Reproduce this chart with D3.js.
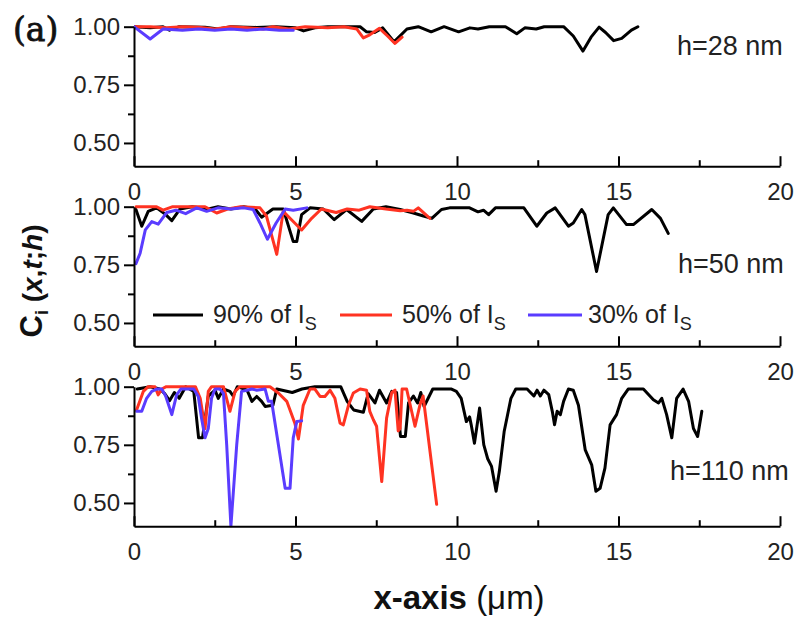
<!DOCTYPE html>
<html>
<head>
<meta charset="utf-8">
<script src="https://cdn.jsdelivr.net/npm/d3@7"></script>
<style>
  html, body { margin: 0; padding: 0; background: #fff; }
  svg { display: block; font-family: "Liberation Sans", Arial, sans-serif; }
</style>
</head>
<body>
<svg id="chart" width="800" height="621"></svg>
<script>
// Series: [x (um), C_i] for each threshold, one set per film thickness
const black28 = [[0,1.0],[0.5,0.995],[0.9,1.0],[1.1,0.985],[1.4,1.0],[2.2,0.998],[2.6,0.99],[3.0,1.0],[3.8,0.997],[4.4,1.0],[5.0,0.995],[5.25,0.982],[5.6,0.995],[6.0,1.0],[7.0,1.0],[7.2,0.978],[7.45,0.975],[7.7,0.995],[8.05,0.935],[8.45,0.99],[8.8,1.0],[9.2,0.978],[9.6,1.0],[10.05,0.978],[10.4,0.995],[10.65,0.99],[11.0,1.0],[11.5,1.0],[11.85,0.97],[12.1,0.995],[12.45,0.99],[12.7,1.0],[13.3,1.0],[13.6,0.96],[13.9,0.895],[14.15,0.955],[14.4,0.998],[14.6,0.975],[14.85,0.94],[15.1,0.95],[15.4,0.985],[15.6,1.0]];
const red28 = [[0,1.0],[0.5,1.0],[1.0,0.995],[1.5,1.0],[2.0,0.998],[2.5,0.99],[3.0,1.0],[3.5,0.995],[4.0,0.99],[4.3,1.0],[4.8,0.99],[5.3,1.0],[6.0,0.995],[6.5,1.0],[6.9,0.99],[7.1,0.952],[7.3,0.965],[7.6,0.993],[7.85,0.96],[8.08,0.928],[8.3,0.955]];
const blue28 = [[0,1.0],[0.5,0.947],[0.9,0.99],[1.5,0.985],[2.0,0.99],[2.5,0.985],[3.0,0.99],[3.5,0.985],[4.0,0.99],[4.5,0.985],[4.93,0.985]];

const black50 = [[0.06,0.988],[0.24,0.916],[0.44,0.98],[0.7,0.995],[0.95,0.97],[1.17,0.94],[1.42,0.99],[1.8,1.0],[2.3,0.99],[2.6,1.0],[3.0,0.99],[3.4,1.0],[3.75,0.99],[3.95,0.955],[4.3,0.99],[4.62,0.99],[4.93,0.85],[5.04,0.85],[5.19,0.966],[5.45,0.995],[5.86,0.99],[6.2,0.944],[6.58,0.988],[7.05,0.937],[7.41,0.99],[7.8,1.0],[8.24,0.988],[8.65,0.973],[8.96,0.96],[9.22,0.95],[9.52,0.988],[9.77,0.995],[10.39,0.995],[10.65,0.978],[10.82,0.985],[10.98,0.966],[11.19,0.995],[12.07,0.995],[12.47,0.916],[12.78,0.973],[13.04,0.995],[13.45,0.916],[13.6,0.93],[13.86,0.988],[13.96,0.966],[14.32,0.721],[14.68,0.966],[14.84,0.995],[15.25,0.923],[15.46,0.923],[16.03,0.988],[16.3,0.95],[16.54,0.885]];
const red50 = [[0.06,1.0],[0.7,1.0],[0.9,0.985],[1.2,1.0],[2.2,1.0],[2.56,0.973],[2.9,0.99],[3.3,1.0],[3.9,0.995],[4.1,0.96],[4.42,0.795],[4.62,0.98],[4.83,0.95],[5.19,0.9],[5.5,0.95],[5.8,0.99],[6.26,0.975],[6.6,0.99],[6.97,0.985],[7.3,1.0],[7.8,0.99],[8.24,0.983],[8.45,0.985],[8.65,0.98],[8.8,0.995],[9.16,0.95]];
const blue50 = [[0.06,0.755],[0.19,0.8],[0.35,0.9],[0.55,0.936],[0.75,0.925],[1.01,0.975],[1.3,0.985],[1.6,0.97],[1.94,0.995],[2.25,0.98],[2.6,0.995],[3.0,0.99],[3.4,0.995],[3.69,0.988],[3.9,0.93],[4.13,0.86],[4.4,0.93],[4.68,0.99],[4.93,0.985],[5.35,0.995]];

const black110 = [[0.1,0.99],[0.5,1.0],[0.8,0.99],[0.95,0.97],[1.1,0.94],[1.25,0.975],[1.4,0.95],[1.6,1.0],[1.85,0.98],[2.0,0.78],[2.12,0.78],[2.3,0.96],[2.51,0.985],[2.61,0.95],[2.77,0.99],[2.97,0.98],[3.07,0.96],[3.2,1.0],[3.5,0.985],[3.65,0.937],[3.8,0.958],[3.95,0.937],[4.06,0.915],[4.3,0.92],[4.42,0.99],[4.9,0.975],[5.2,0.99],[5.6,1.0],[6.4,1.0],[6.6,0.937],[6.8,0.9],[7.1,0.89],[7.25,0.97],[7.46,0.93],[7.6,0.985],[7.82,0.93],[7.98,0.98],[8.13,0.975],[8.25,0.786],[8.4,0.786],[8.5,0.93],[8.65,0.96],[8.78,0.93],[8.88,0.975],[8.98,0.915],[9.25,0.99],[9.83,0.99],[9.98,0.98],[10.13,0.95],[10.29,0.85],[10.39,0.87],[10.44,0.836],[10.54,0.757],[10.7,0.908],[10.83,0.75],[10.95,0.69],[11.07,0.657],[11.21,0.55],[11.31,0.635],[11.46,0.807],[11.67,0.95],[11.82,0.99],[12.17,0.99],[12.38,0.96],[12.48,0.985],[12.58,0.96],[12.69,0.985],[12.84,0.966],[12.95,0.894],[13.02,0.836],[13.1,0.894],[13.2,0.88],[13.3,0.937],[13.45,0.99],[13.6,0.985],[13.76,0.92],[13.97,0.728],[14.17,0.664],[14.3,0.55],[14.43,0.563],[14.58,0.65],[14.74,0.836],[14.94,0.88],[15.1,0.95],[15.3,0.99],[15.77,0.99],[16.08,0.944],[16.24,0.93],[16.34,0.95],[16.49,0.88],[16.65,0.78],[16.8,0.95],[17.0,0.99],[17.17,0.937],[17.32,0.82],[17.45,0.786],[17.58,0.894]];
const red110 = [[0.08,0.9],[0.29,0.98],[0.44,1.0],[0.65,1.0],[0.75,0.965],[0.86,0.99],[1.0,1.0],[1.9,1.0],[2.05,0.95],[2.2,0.82],[2.3,0.98],[2.4,1.0],[2.77,1.0],[2.97,0.894],[3.13,0.98],[3.28,1.0],[4.21,1.0],[4.47,0.973],[4.73,0.937],[4.83,0.9],[4.98,0.843],[5.09,0.775],[5.24,0.92],[5.45,0.99],[5.6,0.99],[5.76,0.958],[5.91,0.958],[6.07,0.985],[6.22,0.95],[6.38,0.843],[6.48,0.836],[6.64,0.92],[6.79,0.973],[7.0,0.99],[7.2,0.985],[7.3,0.894],[7.41,0.858],[7.51,0.83],[7.67,0.592],[7.82,0.865],[7.98,0.975],[8.08,0.985],[8.18,0.81],[8.24,0.82],[8.3,0.99],[8.44,0.99],[8.7,0.83],[8.85,0.92],[8.95,0.96],[9.37,0.494]];
const blue110 = [[0.08,0.894],[0.24,0.894],[0.39,0.95],[0.55,0.98],[0.7,0.99],[0.86,0.99],[0.98,0.96],[1.17,0.88],[1.32,0.965],[1.45,0.99],[1.85,0.99],[1.99,0.958],[2.09,0.865],[2.2,0.78],[2.3,0.82],[2.4,0.95],[2.51,0.99],[2.66,0.99],[2.77,0.97],[2.87,0.75],[3.0,0.4],[3.18,0.75],[3.33,0.98],[3.5,0.985],[3.65,0.99],[3.8,0.985],[4.06,0.99],[4.16,0.937],[4.26,0.937],[4.68,0.563],[4.83,0.563],[4.93,0.78],[5.04,0.85],[5.19,0.853]];

const panelLabels = ["h=28 nm", "h=50 nm", "h=110 nm"];
const seriesNames = ["90% of I", "50% of I", "30% of I"];
const seriesColors = ["#000000", "#ff3322", "#5a3cff"];
const xTicks = [0, 5, 10, 15, 20];
const xMinor = [2.5, 7.5, 12.5, 17.5];
const yTicks = [0.50, 0.75, 1.00];
const yMinor = [0.625, 0.875];

const panels = [
  { label: panelLabels[0], series: [black28, red28, blue28] },
  { label: panelLabels[1], series: [black50, red50, blue50] },
  { label: panelLabels[2], series: [black110, red110, blue110] }
];

const svg = d3.select("#chart");
const left = 134, right = 780;
const panelTop0 = 26.7, panelStep = 180, panelH = 139.5;

const x = d3.scaleLinear().domain([0, 20]).range([left, right]);

panels.forEach((p, i) => {
  const top = panelTop0 + i * panelStep;
  const bottom = top + panelH;
  const y = d3.scaleLinear().domain([0.4, 1.0]).range([bottom, top]);
  const g = svg.append("g");

  const clipId = "clip" + i;
  svg.append("clipPath").attr("id", clipId)
    .append("rect").attr("x", left).attr("y", top - 4)
    .attr("width", right - left).attr("height", panelH + 5);

  // data lines
  const line = d3.line().x(d => x(d[0])).y(d => y(d[1]));
  const lg = g.append("g").attr("clip-path", `url(#${clipId})`);
  p.series.forEach((s, k) => {
    lg.append("path").datum(s)
      .attr("d", line)
      .attr("fill", "none")
      .attr("stroke", seriesColors[k])
      .attr("stroke-width", 3)
      .attr("stroke-linejoin", "round")
      .attr("stroke-linecap", "round");
  });

  // bottom axis (ticks pointing into the plot)
  const xAxis = d3.axisBottom(x).tickValues(xTicks).tickSizeInner(-10).tickSizeOuter(0)
    .tickPadding(17).tickFormat(d3.format("d"));
  const xg = g.append("g").attr("transform", `translate(0,${bottom})`).call(xAxis);
  xg.select(".domain").attr("stroke", "#000").attr("stroke-width", 2);
  xg.selectAll(".tick line").attr("stroke", "#000").attr("stroke-width", 2);
  xg.selectAll(".tick text").attr("font-size", 24).attr("fill", "#222")
    .attr("dy", "0.71em");
  const xm = d3.axisBottom(x).tickValues(xMinor).tickSizeInner(-6).tickSizeOuter(0).tickFormat("");
  const xmg = g.append("g").attr("transform", `translate(0,${bottom})`).call(xm);
  xmg.select(".domain").remove();
  xmg.selectAll(".tick line").attr("stroke", "#000").attr("stroke-width", 2);

  // left axis (ticks pointing outward)
  const yAxis = d3.axisLeft(y).tickValues(yTicks).tickSizeInner(10).tickSizeOuter(0)
    .tickPadding(4).tickFormat(d3.format(".2f"));
  const yg = g.append("g").attr("transform", `translate(${left},0)`).call(yAxis);
  yg.select(".domain").attr("stroke", "#000").attr("stroke-width", 2);
  yg.selectAll(".tick line").attr("stroke", "#000").attr("stroke-width", 2);
  yg.selectAll(".tick text").attr("font-size", 24).attr("fill", "#222");
  const ym = d3.axisLeft(y).tickValues(yMinor).tickSizeInner(6).tickSizeOuter(0).tickFormat("");
  const ymg = g.append("g").attr("transform", `translate(${left},0)`).call(ym);
  ymg.select(".domain").remove();
  ymg.selectAll(".tick line").attr("stroke", "#000").attr("stroke-width", 2);

  g.selectAll(".tick text").attr("font-family", "Liberation Sans, Arial, sans-serif");
});

// thickness labels
const hLabelPos = [[677, 55], [678, 273], [670, 480]];
panels.forEach((p, i) => {
  svg.append("text").attr("x", hLabelPos[i][0]).attr("y", hLabelPos[i][1])
    .attr("font-size", 27).attr("fill", "#222").text(p.label);
});

// legend inside the middle panel
const legendItems = [
  { x1: 153, x2: 203, tx: 213 },
  { x1: 340, x2: 392, tx: 402 },
  { x1: 528, x2: 582, tx: 588 }
];
const legendY = 315;
legendItems.forEach((it, k) => {
  svg.append("line").attr("x1", it.x1).attr("x2", it.x2)
    .attr("y1", legendY).attr("y2", legendY)
    .attr("stroke", seriesColors[k]).attr("stroke-width", 3);
  const t = svg.append("text").attr("x", it.tx).attr("y", 323)
    .attr("font-size", 25).attr("fill", "#222");
  t.append("tspan").text(seriesNames[k]);
  t.append("tspan").attr("font-size", 18).attr("dy", 7).text("S");
});

// y-axis title
const yt = svg.append("text")
  .attr("transform", "translate(42,281) rotate(-90)")
  .attr("text-anchor", "middle")
  .attr("font-size", 28).attr("font-weight", "bold").attr("fill", "#111");
yt.append("tspan").attr("font-size", 31).text("C");
yt.append("tspan").attr("font-size", 18).attr("dy", 6).text("i");
yt.append("tspan").attr("dy", -6).text(" (");
yt.append("tspan").attr("font-style", "italic").text("x");
yt.append("tspan").text(",");
yt.append("tspan").attr("font-style", "italic").text("t");
yt.append("tspan").text(";");
yt.append("tspan").attr("font-style", "italic").text("h");
yt.append("tspan").text(")");

// x-axis title
const xt = svg.append("text").attr("x", 459).attr("y", 609)
  .attr("text-anchor", "middle").attr("font-size", 33).attr("fill", "#111");
xt.append("tspan").attr("font-weight", "bold").text("x-axis ");
xt.append("tspan").text("(\u03bcm)");

// panel tag
svg.append("text").attr("x", 13).attr("y", 41)
  .attr("font-family", "DejaVu Serif, serif").attr("font-size", 33)
  .attr("stroke", "#111").attr("stroke-width", 0.8)
  .attr("fill", "#111").text("(a)");
</script>
</body>
</html>
